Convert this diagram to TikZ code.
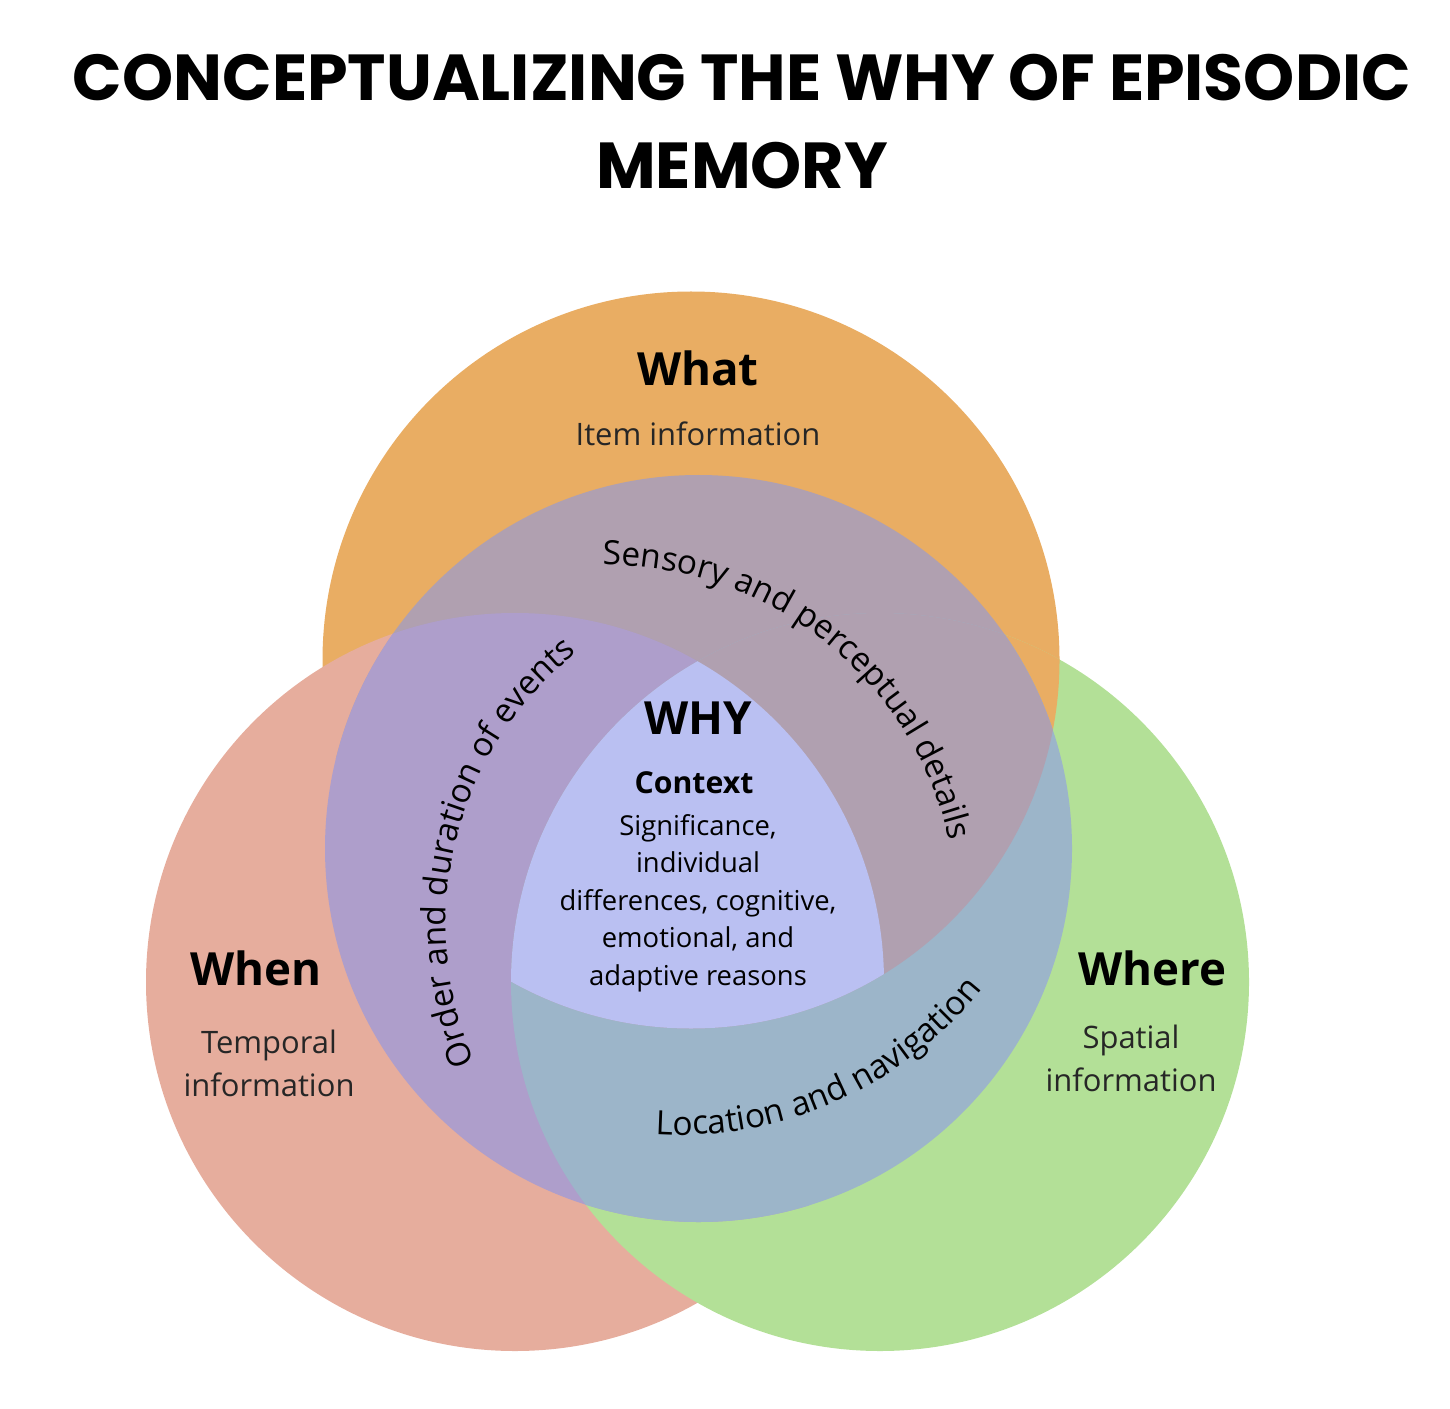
\documentclass[tikz,border=0pt]{standalone}
\usepackage{fontspec}
\setmainfont{Open Sans}
\newfontfamily\titlefont{Poppins}
\usetikzlibrary{decorations.text}

\definecolor{whatorange}{HTML}{E9AD63}
\definecolor{whenpink}{HTML}{E6AD9D}
\definecolor{wheregreen}{HTML}{B3E097}
\definecolor{whatwhy}{HTML}{B0A0B0}
\definecolor{whenwhy}{HTML}{AE9ECB}
\definecolor{wherewhy}{HTML}{9CB5C9}
\definecolor{whycore}{HTML}{BAC0F2}
\newcommand\arcfont{\fontsize{9.5}{11}\selectfont}

\begin{document}
\begin{tikzpicture}[
    head/.style={font=\fontsize{13}{15}\selectfont\bfseries, inner sep=0pt},
    sub/.style={font=\fontsize{8.8}{12.2}\selectfont, align=center, inner sep=0pt, text=black!85},
    arclabel/.style={decorate, decoration={text along path, text align=center, text={|\arcfont|#1}}}
  ]
  \useasboundingbox (0,0) rectangle (14.5,14.08);
  \coordinate (what) at (6.91,7.48);
  \coordinate (when) at (5.15,4.26);
  \coordinate (where) at (8.80,4.26);
  \coordinate (why) at (6.985,5.595);

  % outer circles, each one over the next
  \fill[whatorange] (what) circle (3.685);
  \fill[whenpink] (when) circle (3.69);
  \fill[wheregreen] (where) circle (3.69);
  \begin{scope}
    \clip (where) circle (3.69);
    \fill[whatorange] (what) circle (3.685);
  \end{scope}

  % why circle
  \begin{scope}
    \clip (why) circle (3.735);
    \fill[whatwhy] (what) circle (3.685);
    \fill[whenwhy] (when) circle (3.69);
    \fill[wherewhy] (where) circle (3.69);
    \begin{scope}
      \clip (where) circle (3.69);
      \fill[whatwhy] (what) circle (3.685);
    \end{scope}
    \begin{scope}
      \clip (where) circle (3.69);
      \clip (when) circle (3.69);
      \fill[whycore] (what) circle (3.685);
    \end{scope}
  \end{scope}

  \node[font=\titlefont\bfseries\fontsize{18.5}{25}\selectfont, align=center] (title) at (7.42,12.86)
    {CONCEPTUALIZING THE WHY OF EPISODIC\\MEMORY};

  \node[head] (whathead) at (6.98,10.40) {What};
  \node[sub] (whattext) at (6.98,9.74) {Item information};
  \node[head] (whenhead) at (2.56,4.40) {When};
  \node[sub] (whentext) at (2.69,3.45) {Temporal\\information};
  \node[head] (wherehead) at (11.52,4.40) {Where};
  \node[sub] (wheretext) at (11.31,3.50) {Spatial\\information};

  \node[head] (whyhead) at (6.98,6.90) {WHY};
  \node[font=\fontsize{8.6}{10}\selectfont\bfseries, inner sep=0pt] (context) at (6.94,6.25) {Context};
  \node[font=\fontsize{7.8}{10.67}\selectfont, align=center, inner sep=0pt] (reasons) at (6.98,5.05)
    {Significance,\\individual\\differences, cognitive,\\emotional, and\\adaptive reasons};

  % curved labels in the bands
  \path[arclabel={Sensory and perceptual details}]
    ([shift={(96.5:3.53)}]6.05,4.90) arc[start angle=96.5, end angle=6.5, radius=3.53];
  \path[arclabel={Order and duration of events}]
    ([shift={(211:3.47)}]7.93,4.84) arc[start angle=211, end angle=121, radius=3.47];
  \path[arclabel={Location and navigation}]
    ([shift={(-107:3.87)}]6.79,6.60) arc[start angle=-107, end angle=-25, radius=3.87];
\end{tikzpicture}
\end{document}
